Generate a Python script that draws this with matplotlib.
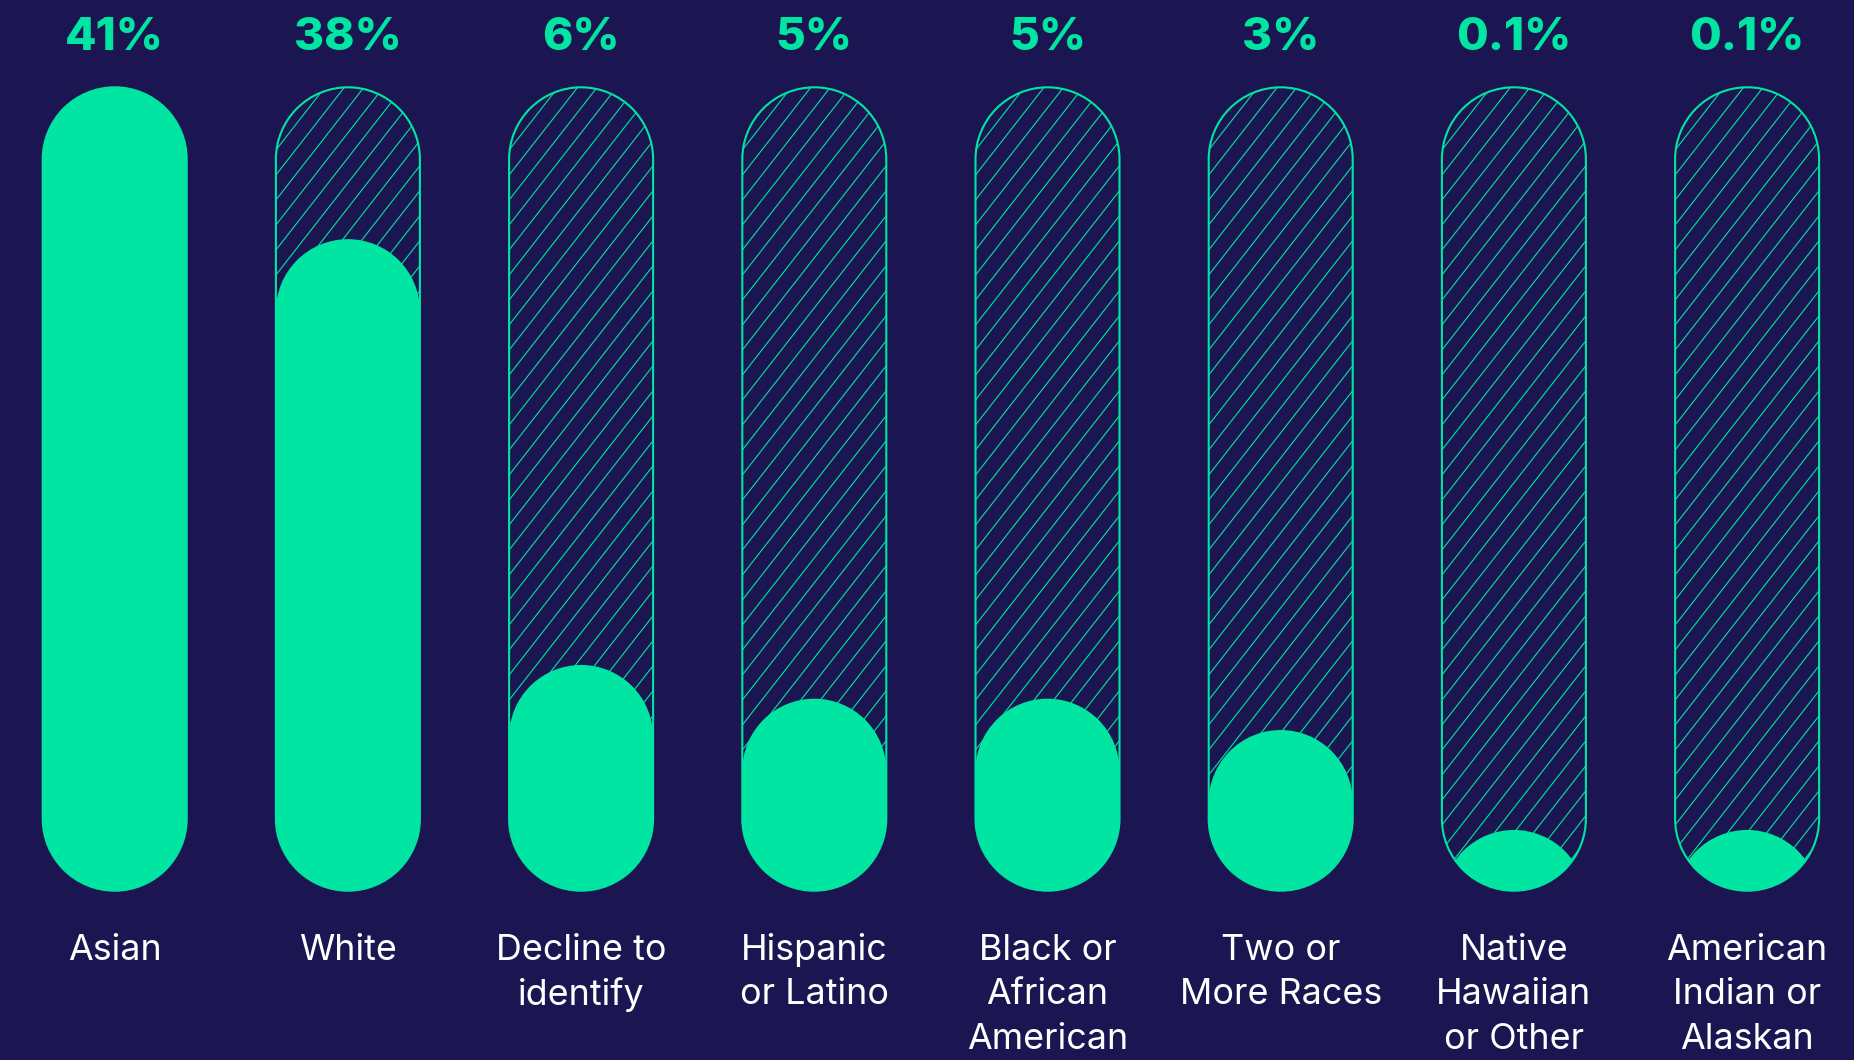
import numpy as np
import matplotlib.pyplot as plt
from matplotlib.path import Path
from matplotlib.patches import PathPatch

categories = ["Asian", "White", "Decline to\nidentify", "Hispanic\nor Latino",
              "Black or\nAfrican\nAmerican", "Two or\nMore Races",
              "Native\nHawaiian\nor Other", "American\nIndian or\nAlaskan"]
values = [41, 38, 6, 5, 5, 3, 0.1, 0.1]
# how high each tube is filled in the picture (share of the tube)
fill_share = [1.0, 0.811, 0.281, 0.239, 0.239, 0.200, 0.0756, 0.0756]

bg = "#1b1652"
green = "#00e5a1"

plt.rcParams['font.family'] = ['Inter', 'DejaVu Sans']

fig = plt.figure(figsize=(18.54, 10.60), dpi=100, facecolor=bg)
ax = fig.add_axes([0, 0, 1, 1])
ax.set_facecolor(bg)
ax.axis('off')

# one unit = distance between two tubes (233.2 px)
step = 233.2
y_off = 169.3 / step
ax.set_xlim(-114.7 / step, -114.7 / step + 1854 / step)
ax.set_ylim(-y_off, -y_off + 1060 / step)

tube_h = 803.4 / step
w = 144 / step
r = w / 2
slope = np.tan(np.radians(52))
gap = 25 / step
line_h = 44.5 / step

def pill(xc, y0, y1, **kw):
    top = Path.arc(0, 180)
    bot = Path.arc(180, 360)
    verts = np.concatenate([top.vertices * r + [xc, y1 - r],
                            bot.vertices * r + [xc, y0 + r],
                            [[0, 0]]])
    codes = np.concatenate([top.codes, bot.codes, [Path.CLOSEPOLY]])
    codes[len(top.codes)] = Path.LINETO
    return PathPatch(Path(verts, codes), **kw)

for i, (cat, v, s) in enumerate(zip(categories, values, fill_share)):
    outline = pill(i, 0, tube_h, facecolor='none', edgecolor=green, lw=1.5, zorder=4)
    ax.add_patch(outline)

    # diagonal hatch inside the tube
    xs = np.array([i - r, i + r])
    for c in np.arange(-slope * w, tube_h + gap, gap):
        ln, = ax.plot(xs, c + slope * (xs - (i - r)), color=green, lw=0.8, zorder=2)
        ln.set_clip_path(outline)

    level = s * tube_h
    fill = pill(i, min(0, level - w), level, facecolor=green, edgecolor='none', zorder=3)
    ax.add_patch(fill)
    fill.set_clip_path(outline)

    ax.text(i, (1060 - 50) / step - y_off, f"{v:g}%", color=green,
            fontsize=33, fontweight=800, ha='center', va='baseline')
    for k, part in enumerate(cat.split("\n")):
        ax.text(i, (1060 - 960) / step - y_off - k * line_h, part, color='white',
                fontsize=25.8, ha='center', va='baseline')

fig.savefig("out.png", dpi=100, facecolor=bg)
